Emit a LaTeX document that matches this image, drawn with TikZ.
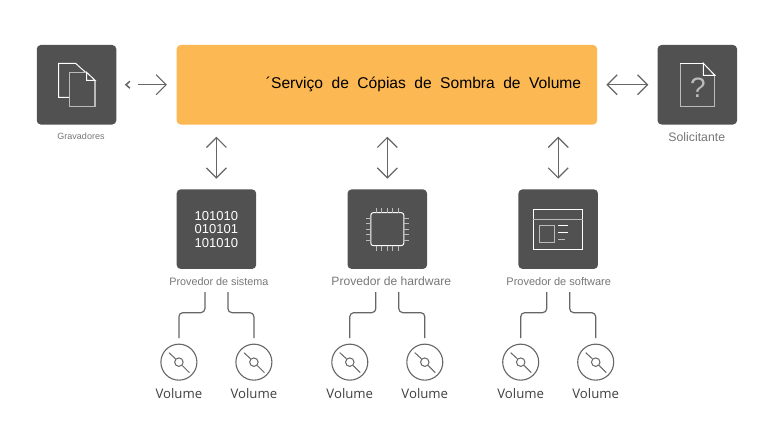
\documentclass[tikz,border=0pt]{standalone}
\usepackage{fontspec}
\setmainfont{Liberation Sans}
\newfontfamily\volfont{Open Sans}
\newfontfamily\svcfont[WordSpace=1.95]{Liberation Sans}
\usetikzlibrary{arrows.meta,positioning,calc}
\definecolor{boxgray}{HTML}{505150}
\definecolor{svcorange}{HTML}{FCB853}
\definecolor{linegray}{HTML}{666666}
\definecolor{labelgray}{HTML}{777777}
\definecolor{icongray}{HTML}{BBBBBB}
\tikzset{
    box/.style={rectangle, fill=boxgray, rounded corners=4pt, minimum size=79.5pt, inner sep=0},
    svcbox/.style={rectangle, fill=svcorange, rounded corners=4pt, minimum width=420.5pt, minimum height=79.5pt, inner sep=0},
    lbl/.style={text=labelgray, inner sep=0},
    flow/.style={{Straight Barb[length=10pt,width=20pt]}-{Straight Barb[length=10pt,width=20pt]}, line width=1.2pt, draw=linegray},
    halfflow/.style={-{Straight Barb[length=10pt,width=20pt]}, line width=1.2pt, draw=linegray},
    wire/.style={line width=1.2pt, draw=linegray, rounded corners=4pt},
    disk/.style={circle, draw=linegray, line width=1.1pt, minimum size=36pt, inner sep=0},
    vol/.style={font=\fontsize{13.2}{15}\selectfont\volfont, text=black!75, inner sep=0},
    iconw/.style={draw=white, line width=1pt},
    icong/.style={draw=icongray, line width=1.2pt},
}

\begin{document}
\begin{tikzpicture}[x=1pt, y=1pt]
    \useasboundingbox[fill=white] (0,0) rectangle (775,-436);

    \node[box] (grav) at (76.5,-84.75) {};
    \node[svcbox, right=60pt of grav] (svc) {};
    \node[box, right=60pt of svc] (sol) {};
    \node[box, below=64.5pt of svc.south west, anchor=north west] (sis) {};
    \node[box, right=91pt of sis] (har) {};
    \node[box, right=91pt of har] (sof) {};

    \node[anchor=east, inner sep=0, font=\fontsize{15.6}{18}\selectfont\svcfont] (svctxt) at ($(svc.east)+(-16,0)$) {´Serviço de Cópias de Sombra de Volume};

    \node[lbl, font=\fontsize{9}{10}\selectfont, below=8pt of grav, xshift=4.5pt] (gravl) {Gravadores};
    \node[lbl, font=\fontsize{12.3}{14}\selectfont, below=8pt of sol, xshift=-.5pt] (soll) {Solicitante};
    \node[lbl, font=\fontsize{10.8}{12}\selectfont, below=8pt of sis, xshift=2.5pt] (sisl) {Provedor de sistema};
    \node[lbl, font=\fontsize{12.1}{14}\selectfont, below=7pt of har, xshift=4pt] (harl) {Provedor de hardware};
    \node[lbl, font=\fontsize{11}{12}\selectfont, below=8pt of sof, xshift=.5pt] (sofl) {Provedor de software};

    % arrows to the service
    \draw[halfflow, shorten <=21.5pt, shorten >=9.5pt] (grav.east) -- (svc.west);
    \draw[line width=1.5pt, draw=linegray] ($(grav.east)+(13.5,3.5)$) -- ($(grav.east)+(9.5,0)$) -- ($(grav.east)+(13.5,-3.5)$);
    \draw[flow, shorten <=9pt, shorten >=9pt] (svc.east) -- (sol.west);
    \foreach \p in {sis,har,sof}
        \draw[flow, shorten <=12pt, shorten >=10.5pt] (svc.south -| \p.north) -- (\p.north);

    % volumes
    \foreach \p in {sis,har,sof} {
        \node[disk] (\p1) at ($(\p.center)+(-37.5,-133)$) {};
        \node[disk] (\p2) at ($(\p.center)+(37.5,-133)$) {};
        \foreach \n/\s in {1/-1,2/1} {
            \node[vol, below=7.5pt of \p\n] (\p\n l) {Volume};
            \node[circle, draw=linegray, line width=1pt, minimum size=8.5pt, inner sep=0] (\p\n c) at (\p\n) {};
            \draw[line width=1pt, draw=linegray] ($(\p\n)+(-10,9.5)$) -- (\p\n c.north west);
            \draw[line width=1pt, draw=linegray] (\p\n c.south east) -- ($(\p\n)+(10.5,-10.5)$);
            \coordinate (\p\n t) at ($(\p.center)+(\s*11.5,-63)$);
            \coordinate (\p\n m) at ($(\p.center)+(\s*37.5,-83.5)$);
            \draw[wire, shorten >=5.5pt] (\p\n t) |- (\p\n m) -- (\p\n.north);
        }
    }

    % writers icon
    \begin{scope}[shift={(grav.center)}]
        \draw[iconw] (-7,-12.5) -- (-18,-12.5) -- (-18,21.5) -- (-1,21.5) -- (9,12.5);
        \draw[icong] (10,12.5) -- (-7,12.5) -- (-7,-21.5) -- (18.5,-21.5) -- (18.5,4.5);
        \draw[iconw] (10,12.5) -- (18.5,4.5) -- (10,4.5) -- cycle;
    \end{scope}

    % requester icon
    \begin{scope}[shift={(sol.center)}]
        \draw[icong] (-17,21.5) -- (-17,-21.5) -- (17.5,-21.5) -- (17.5,9.5);
        \draw[iconw] (-17,21.5) -- (6,21.5);
        \draw[iconw] (6,21.5) -- (17.5,9.5) -- (6,9.5) -- cycle;
        \node[text=icongray, inner sep=0, font=\fontsize{28}{30}\selectfont] (solq) at (0.5,-2.5) {?};
    \end{scope}

    % system provider icon
    \begin{scope}[shift={(sis.center)}]
        \foreach \t/\y in {101010/13.5,010101/0.5,101010/-13.5}
            \node[text=white, inner sep=0, font=\fontsize{13}{15}\selectfont] at (0,\y) {\t};
    \end{scope}

    % hardware provider icon
    \begin{scope}[shift={(har.center)}]
        \draw[iconw, rounded corners=2.5pt] (-16.5,-16.5) rectangle (16.5,16.5);
        \foreach \i in {-2,...,2} {
            \draw[icong, line width=.9pt] (\i*5.4,16.5) -- (\i*5.4,21.5);
            \draw[icong, line width=.9pt] (\i*5.4,-16.5) -- (\i*5.4,-21.5);
            \draw[icong, line width=.9pt] (16.5,\i*5.4) -- (21.5,\i*5.4);
            \draw[icong, line width=.9pt] (-16.5,\i*5.4) -- (-21.5,\i*5.4);
        }
    \end{scope}

    % software provider icon
    \begin{scope}[shift={(sof.center)}]
        \draw[iconw] (-25,19.5) rectangle (24.5,-20);
        \draw[icong] (-25,9.75) -- (24.5,9.75);
        \draw[icong] (-18.5,3.5) rectangle (-4,-13);
        \draw[iconw] (0,3.5) -- (10,3.5);
        \draw[iconw] (0,-3.5) -- (10,-3.5);
        \draw[icong] (0,-10.5) -- (7,-10.5);
    \end{scope}
\end{tikzpicture}
\end{document}
